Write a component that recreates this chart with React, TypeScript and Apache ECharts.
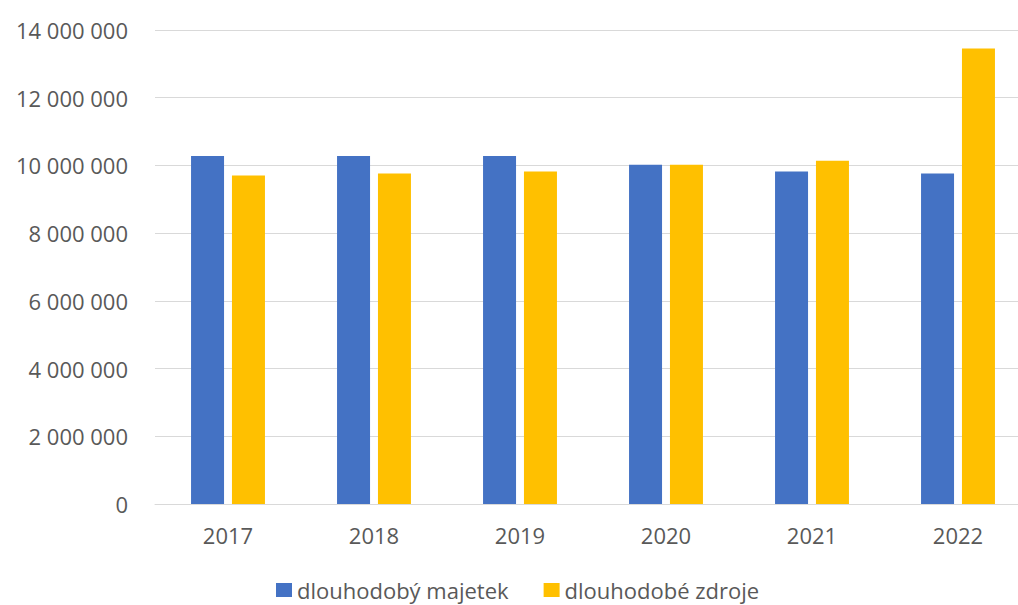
import React, { useEffect, useRef } from "react";
import * as echarts from "echarts";

const categories = ["2017", "2018", "2019", "2020", "2021", "2022"];
const seriesNames = ["dlouhodobý majetek", "dlouhodobé zdroje"];
const majetek = [10280000, 10280000, 10280000, 10020000, 9820000, 9760000];
const zdroje = [9700000, 9760000, 9820000, 10020000, 10140000, 13450000];
const yMin = 0;
const yMax = 14000000;
const yInterval = 2000000;

const FONT = "'Open Sans', 'Liberation Sans', sans-serif";
const LABEL = "#595959";

function fmt(v: number): string {
  return String(Math.round(v)).replace(/\B(?=(\d{3})+(?!\d))/g, " ");
}

export default function App() {
  const ref = useRef<HTMLDivElement>(null);
  useEffect(() => {
    if (!ref.current) return;
    document.body.style.overflow = "hidden";
    const chart = echarts.init(ref.current, null, { renderer: "svg" });
    chart.setOption({
      animation: false,
      backgroundColor: "#ffffff",
      textStyle: { fontFamily: FONT },
      grid: { left: 155, right: 9, top: 30, bottom: 101, containLabel: false },
      legend: {
        left: 271,
        top: 574,
        itemWidth: 16,
        itemHeight: 14,
        itemGap: 35,
        icon: "rect",
        textStyle: { color: LABEL, fontSize: 22, fontFamily: FONT },
        data: seriesNames,
      },
      xAxis: {
        type: "category",
        data: categories,
        axisTick: { show: false },
        axisLine: { lineStyle: { color: "#D9D9D9", width: 1 } },
        axisLabel: { color: LABEL, fontSize: 22, margin: 20, fontFamily: FONT },
      },
      yAxis: {
        type: "value",
        min: yMin,
        max: yMax,
        interval: yInterval,
        axisLine: { show: false },
        axisTick: { show: false },
        splitLine: { lineStyle: { color: "#D9D9D9", width: 1 } },
        axisLabel: {
          color: LABEL,
          fontSize: 22,
          margin: 27,
          fontFamily: FONT,
          formatter: (v: number) => fmt(v),
        },
      },
      series: [
        {
          name: seriesNames[0],
          type: "bar",
          data: majetek,
          barWidth: 33,
          barGap: "24%",
          itemStyle: { color: "#4472C4" },
        },
        {
          name: seriesNames[1],
          type: "bar",
          data: zdroje,
          barWidth: 33,
          barGap: "24%",
          itemStyle: { color: "#FFC000" },
        },
      ],
    });
    return () => chart.dispose();
  }, []);
  return (
    <div
      ref={ref}
      style={{ position: "fixed", left: 0, top: 0, width: 1040, height: 605 }}
    />
  );
}
